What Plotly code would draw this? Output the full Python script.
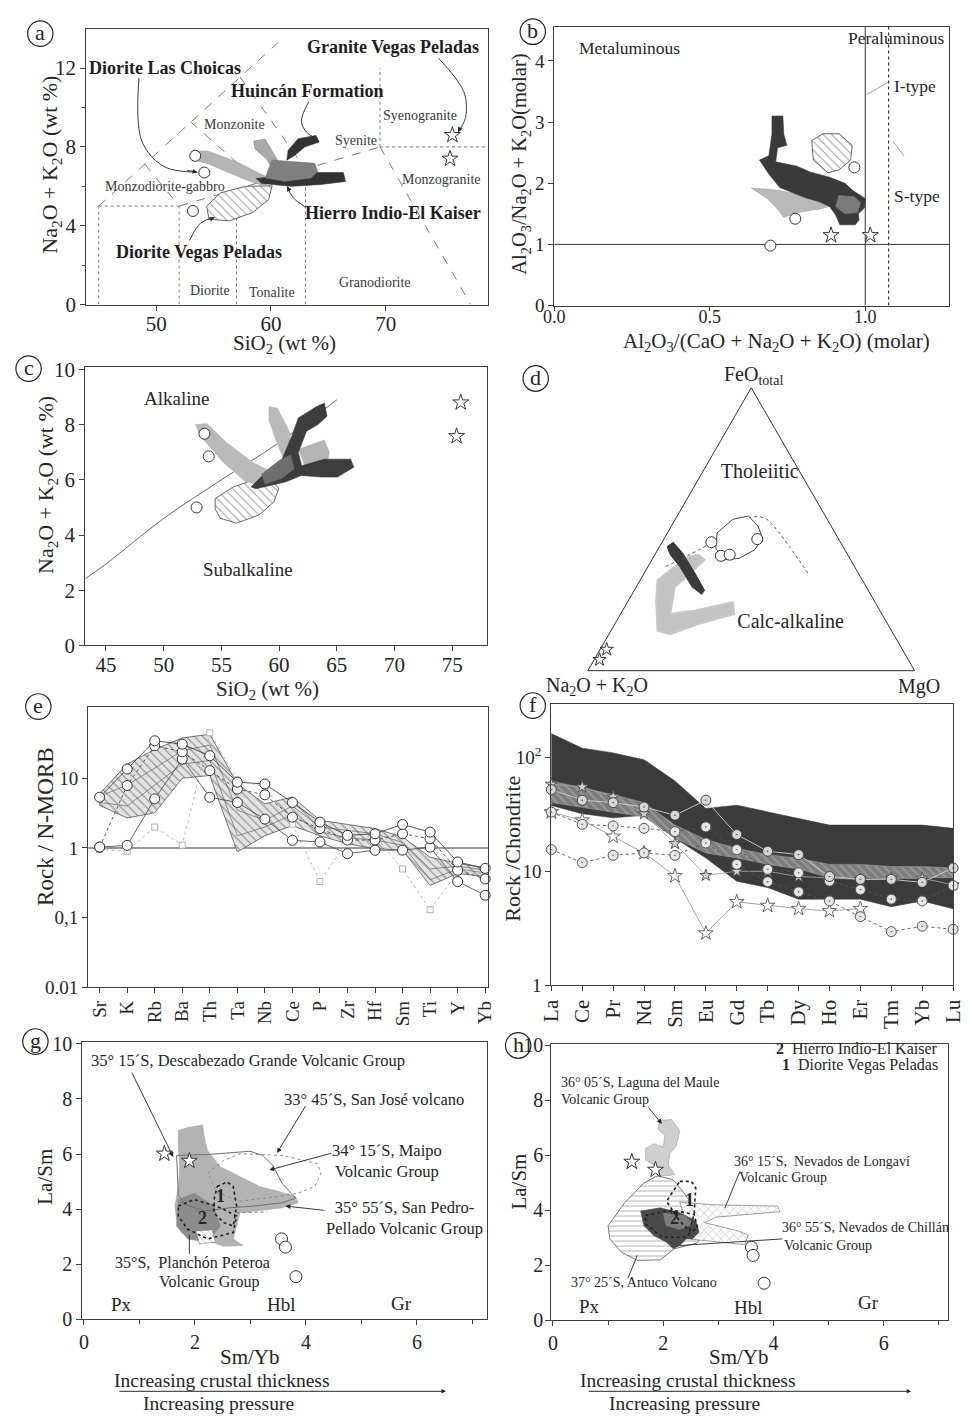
import plotly.graph_objects as go

FONT = "Liberation Serif"
INK = "#262626"
AXC = "#3f3f3f"
FIG_W, FIG_H = 970, 1424

# ---------------- (a) TAS diagram, plutonic nomenclature ----------------
A_CIRCLE_SIO2 = [53.4, 54.2, 53.2]
A_CIRCLE_ALK = [7.55, 6.7, 4.75]
A_STAR_SIO2 = [75.8, 75.6]
A_STAR_ALK = [8.6, 7.4]
A_VEGAS_SIO2 = [54.4, 55.6, 57.8, 60.1, 59.8, 58.4, 56.4, 54.6]
A_VEGAS_ALK = [5.0, 5.67, 6.0, 6.03, 5.33, 4.67, 4.25, 4.33]
A_ARM_SIO2 = [53.15, 54.43, 55.84, 57.26, 58.96, 59.81, 59.53, 57.83, 56.13, 54.43, 53.29]
A_ARM_ALK = [7.75, 7.8, 7.5, 7.17, 6.67, 6.42, 6.0, 6.33, 6.75, 7.17, 7.33]
A_BRANCH_SIO2 = [58.5, 59.5, 60.6, 61.2, 60.3, 59.6, 58.6]
A_BRANCH_ALK = [8.3, 8.4, 7.3, 6.9, 6.7, 7.4, 7.9]
A_BLOCK_SIO2 = [60.1, 63.8, 64.07, 63.5, 61.2, 59.5]
A_BLOCK_ALK = [7.33, 7.17, 6.75, 6.42, 6.25, 6.42]
A_UPPER_SIO2 = [61.5, 62.37, 63.93, 64.2, 62.94, 62.09, 61.38]
A_UPPER_ALK = [7.83, 8.42, 8.58, 8.25, 8.0, 7.58, 7.33]
A_LOWER_SIO2 = [58.7, 60.4, 63.8, 66.3, 66.5, 64.4, 61.8, 59.2]
A_LOWER_ALK = [6.4, 6.5, 6.7, 6.7, 6.25, 6.1, 6.0, 6.15]
A_DOTTED = [([45, 45], [0, 5]), ([45, 52], [5, 5]), ([52, 52], [0, 5]),
            ([57, 57], [0, 5.86]), ([63, 63], [0, 6.89]),
            ([69.5, 69.5], [8, 12]), ([69.5, 78.9], [8, 8])]
A_DASHED = [([45, 61], [5, 13.5]), ([49, 52], [7.13, 5]), ([53, 59], [9.27, 6.2]),
            ([57.3, 63], [11.56, 6.89]), ([52, 69.5], [5, 8]), ([69.5, 77.4], [8, 0])]
A_FIELDS = ["Monzonite", "Syenite", "Syenogranite", "Monzogranite",
            "Monzodiorite-gabbro", "Diorite", "Tonalite", "Granodiorite"]
A_UNITS = ["Granite Vegas Peladas", "Diorite Las Choicas", "Huincán Formation",
           "Hierro Indio-El Kaiser", "Diorite Vegas Peladas"]

# ---------------- (b) Shand index ----------------
B_DARK_X = [0.700, 0.735, 0.738, 0.748, 0.718, 0.712, 0.780, 0.825, 0.885, 0.935, 0.960, 1.000, 0.998,
            0.978, 0.980, 0.968, 0.918, 0.905, 0.885, 0.850, 0.810, 0.770, 0.725, 0.690, 0.660, 0.690, 0.700]
B_DARK_Y = [3.10, 3.10, 2.80, 2.62, 2.58, 2.35, 2.28, 2.18, 2.10, 2.00, 1.88, 1.75, 1.60,
            1.50, 1.40, 1.32, 1.32, 1.48, 1.62, 1.70, 1.76, 1.84, 1.93, 2.15, 2.38, 2.45, 2.80]
B_MED_X = [0.915, 0.965, 0.985, 0.975, 0.935, 0.905]
B_MED_Y = [1.80, 1.78, 1.68, 1.52, 1.50, 1.62]
B_LIGHT_X = [0.634, 0.697, 0.770, 0.875, 0.890, 0.854, 0.781, 0.738, 0.718, 0.687]
B_LIGHT_Y = [1.92, 1.90, 1.84, 1.68, 1.63, 1.58, 1.52, 1.44, 1.58, 1.74]
B_HATCH_X = [0.828, 0.864, 0.916, 0.958, 0.953, 0.916, 0.880, 0.833]
B_HATCH_Y = [2.70, 2.81, 2.81, 2.62, 2.38, 2.22, 2.17, 2.38]
B_CIRCLE_X = [0.965, 0.775, 0.695]
B_CIRCLE_Y = [2.26, 1.42, 0.98]
B_STAR_X = [0.89, 1.016]
B_STAR_Y = [1.15, 1.15]
B_ASI_LIMIT = 1.0
B_ANK_LIMIT = 1.0
B_IS_LIMIT = 1.075

# ---------------- (c) alkaline / subalkaline ----------------
C_BOUNDARY_SIO2 = [43.25, 45, 50, 55, 60, 65]
C_BOUNDARY_ALK = [2.43, 2.95, 4.6, 6.0, 7.35, 8.9]
C_ARM_X = [52.76, 53.75, 55.45, 57.71, 59.41, 59.12, 57.14, 55.17, 53.19]
C_ARM_Y = [8.0, 8.04, 7.35, 6.63, 6.28, 5.80, 5.92, 6.63, 7.58]
C_BRANCH_X = [59.12, 59.83, 60.82, 61.38, 60.53, 59.69, 59.12]
C_BRANCH_Y = [8.65, 8.6, 7.82, 6.99, 6.63, 7.46, 8.18]
C_RIGHT_X = [61.66, 63.92, 64.35, 64.07, 62.23]
C_RIGHT_Y = [7.11, 7.44, 6.99, 6.46, 6.51]
C_DARK_X = [57.57, 58.84, 60.25, 61.1, 61.66, 63.22, 63.92, 64.15, 63.36, 62.37, 61.66, 61.95,
            63.92, 66.19, 66.47, 65.05, 63.64, 61.95, 60.53, 59.12, 57.99]
C_DARK_Y = [5.74, 6.28, 6.75, 7.58, 8.24, 8.65, 8.78, 8.3, 8.0, 7.76, 6.99, 6.51,
            6.75, 6.75, 6.46, 6.1, 6.1, 6.16, 5.92, 5.8, 5.68]
C_MID_X = [58.5, 60.0, 61.0, 61.3, 60.2, 58.8]
C_MID_Y = [6.2, 6.7, 6.9, 6.4, 6.05, 5.85]
C_HATCH_X = [54.46, 56.02, 57.71, 59.41, 59.97, 59.54, 58.27, 56.3, 54.88, 54.46]
C_HATCH_Y = [5.32, 5.74, 5.98, 5.98, 5.68, 5.2, 4.73, 4.43, 4.61, 4.96]
C_CIRCLE_X = [53.53, 53.9, 52.85]
C_CIRCLE_Y = [7.67, 6.85, 5.0]
C_STAR_X = [75.73, 75.37]
C_STAR_Y = [8.8, 7.58]

# ---------------- (d) AFM ternary (FeOt, Na2O+K2O, MgO) ----------------
D_BOUND_FEO = [36.8, 45.1, 54.0, 54.0, 51.1, 43.9, 34.4]
D_BOUND_ALK = [57.8, 39.8, 23.8, 19.0, 17.6, 16.4, 15.4]
D_BOUND_MGO = [5.4, 15.1, 22.2, 27.0, 31.3, 39.7, 50.2]
D_CIRCLE_FEO = [45.4, 40.6, 41.0, 46.5]
D_CIRCLE_ALK = [39.5, 39.0, 36.1, 24.9]
D_CIRCLE_MGO = [15.1, 20.4, 22.9, 28.6]
D_HATCH_FEO = [48.7, 53.5, 54.65, 51.1, 46.9, 42.7, 39.7, 39.15, 43.3]
D_HATCH_ALK = [36.1, 28.9, 23.5, 22.4, 23.1, 27.6, 33.9, 39.0, 39.2]
D_HATCH_MGO = [15.2, 17.6, 21.85, 26.5, 30.0, 29.7, 26.4, 21.85, 17.5]
D_DARK_FEO = [43.9, 45.35, 41.5, 34.4, 28.4, 27.0, 29.6, 36.8, 40.95]
D_DARK_ALK = [53.8, 51.2, 50.2, 50.0, 50.1, 51.7, 53.3, 53.5, 54.3]
D_DARK_MGO = [2.3, 3.45, 8.3, 15.6, 21.5, 21.3, 17.1, 9.7, 4.75]
D_LIGHT_FEO = [40.95, 39.15, 32.0, 29.6, 20.0, 21.3, 24.2, 20.0, 16.5, 12.9, 14.1, 24.8, 32.0, 35.6, 40.3]
D_LIGHT_ALK = [45.7, 44.7, 55.0, 58.6, 64.8, 56.5, 43.5, 45.2, 57.9, 68.4, 71.65, 66.7, 62.7, 57.0, 48.9]
D_LIGHT_MGO = [13.35, 16.15, 13.0, 11.8, 15.2, 22.2, 32.3, 34.8, 25.6, 18.7, 14.25, 8.5, 5.3, 7.4, 10.8]
D_STAR_FEO = [3.9, 7.5]
D_STAR_ALK = [94.5, 90.5]
D_STAR_MGO = [1.6, 2.0]
D_FIELDS = ["Tholeiitic", "Calc-alkaline"]

# ---------------- (e) N-MORB normalised spider diagram ----------------
E_ELEMENTS = ["Sr", "K", "Rb", "Ba", "Th", "Ta", "Nb", "Ce", "P", "Zr", "Hf", "Sm", "Ti", "Y", "Yb"]
E_SAMPLE_1 = [5.35, 13.6, 34.6, 30.9, 21.1, 8.8, 8.3, 4.5, 2.35, 1.52, 1.6, 2.18, 1.69, 0.63, 0.51]
E_SAMPLE_2 = [1.03, 7.9, 29.3, 24.0, 12.9, 7.0, 5.8, 2.77, 1.9, 1.3, 1.3, 1.6, 1.36, 0.48, 0.36]
E_SAMPLE_3 = [1.03, 1.09, 5.07, 18.9, 5.35, 4.5, 2.6, 1.29, 1.22, 0.83, 0.93, 0.93, 1.03, 0.33, 0.21]
E_GRANITE = [0.95, 0.9, 2.0, 1.1, 45.0, 9.5, 7.5, 2.2, 0.33, 1.25, 1.5, 0.5, 0.13, 0.45, 0.42]
E_BAND_UPPER = [6.0, 16.0, 26.0, 38.0, 43.0, 8.3, 4.3, 5.4, 2.5, 2.2, 1.9, 1.44, 0.74, 0.6, 0.52]
E_BAND_LOWER = [4.1, 2.7, 3.2, 10.0, 11.0, 0.88, 1.5, 2.1, 1.5, 1.15, 0.98, 0.93, 0.29, 0.43, 0.39]
E_BAND_LINE_A = [5.5, 8.0, 14.0, 25.0, 30.0, 3.5, 2.5, 4.0, 2.0, 1.8, 1.6, 1.2, 0.5, 0.55, 0.48]
E_BAND_LINE_B = [4.5, 4.0, 8.0, 16.0, 18.0, 1.5, 2.0, 3.0, 1.7, 1.4, 1.3, 1.1, 0.35, 0.5, 0.44]

# ---------------- (f) chondrite normalised REE ----------------
F_ELEMENTS = ["La", "Ce", "Pr", "Nd", "Sm", "Eu", "Gd", "Tb", "Dy", "Ho", "Er", "Tm", "Yb", "Lu"]
F_ENV_UPPER = [161, 120, 109, 95, 62, 35.5, 38, 33, 29, 25.4, 25.4, 25.4, 25.4, 23.8]
F_ENV_LOWER = [37.8, 32, 29.4, 31, 19.5, 13.1, 8.2, 7.2, 5.7, 5.7, 5.7, 4.9, 5.5, 4.7]
F_BAND_UPPER = [62, 54, 47, 40, 25.4, 19, 15.9, 14, 13, 11.5, 11.5, 11, 11, 10.7]
F_BAND_LOWER = [40, 36.6, 33, 30, 19.5, 14.5, 13.1, 11.5, 10.5, 8.8, 8.8, 8.8, 8.8, 8.8]
F_SAMPLE_A = [52, 42, 40, 36.6, 31, 42, 21, 15, 14, 9, 8.5, 8.5, 8, 10.7]
F_SAMPLE_B = [33, 25.8, 25, 23.8, 22.3, 24.5, 15.5, 10.4, 9.7, 8.2, 6.9, 5.7, 5.5, 7.5]
F_SAMPLE_C = [15.5, 11.9, 13.8, 14.5, 13.8, 17.7, 11.5, 8.1, 6.6, 5.5, 4.0, 2.96, 3.3, 3.1]
F_STAR_1 = [33, 28, 20.2, 14.5, 9.1, 2.87, 5.4, 5.0, 4.7, 4.5, 4.7, None, None, None]
F_STAR_2 = [58, 55, 45, 32, 17.5, 9.2, 10, 10, 9, 8.7, 8.5, 8.7, 8.7, 7.6]

# ---------------- (g) La/Sm vs Sm/Yb, northern centres ----------------
G_GRAY_X = [1.70, 1.873, 2.137, 2.167, 2.225, 2.458, 2.81, 3.16, 3.51, 3.805, 3.863, 3.57, 3.10,
            2.81, 2.75, 2.69, 2.87, 2.52, 2.225, 1.99, 1.756, 1.668, 1.64, 1.70, 1.728, 1.70]
G_GRAY_Y = [6.85, 6.96, 7.05, 6.61, 6.13, 5.54, 5.18, 4.82, 4.64, 4.46, 4.23, 4.05, 3.93,
            3.87, 3.39, 2.92, 2.68, 2.65, 2.86, 3.04, 3.15, 3.63, 4.11, 4.82, 5.54, 6.25]
G_DARK_X = [1.70, 1.99, 2.342, 2.458, 2.225, 1.873, 1.668]
G_DARK_Y = [4.35, 4.58, 4.11, 3.39, 2.8, 2.92, 3.39]
G_HATCH_X = [2.02, 2.31, 2.37, 2.08]
G_HATCH_Y = [3.21, 3.25, 2.8, 2.74]
G_SANJOSE_X = [1.67, 2.23, 2.99, 3.22, 3.40, 3.57, 3.81, 3.57, 3.05, 2.63, 2.17, 1.82, 1.70]
G_SANJOSE_Y = [5.95, 5.98, 6.1, 5.95, 5.6, 4.94, 4.40, 4.23, 4.11, 4.05, 3.93, 4.17, 4.52]
G_MAIPO_X = [2.23, 2.52, 2.81, 3.57, 4.21, 4.27, 4.16, 3.86, 3.51, 2.81, 2.40]
G_MAIPO_Y = [5.30, 5.77, 6.01, 5.95, 5.65, 5.30, 4.82, 4.58, 4.46, 4.29, 4.6]
G_PELLADO_X = [2.75, 3.3]
G_PELLADO_Y = [3.87, 3.9]
G_REGION1_X = [2.40, 2.58, 2.69, 2.75, 2.69, 2.52, 2.34, 2.35]
G_REGION1_Y = [4.82, 4.99, 4.82, 4.11, 3.39, 3.51, 3.87, 4.4]
G_REGION2_X = [1.70, 1.99, 2.46, 2.75, 2.69, 2.23, 1.87, 1.70]
G_REGION2_Y = [4.11, 4.35, 4.05, 3.75, 3.15, 2.92, 3.27, 3.75]
G_STAR_X = [1.45, 1.9]
G_STAR_Y = [6.01, 5.75]
G_CIRCLE_X = [3.56, 3.63, 3.82]
G_CIRCLE_Y = [2.92, 2.62, 1.55]

# ---------------- (h) La/Sm vs Sm/Yb, southern centres ----------------
H_ANTUCO_X = [1.89, 2.18, 2.35, 2.6, 2.8, 2.6, 2.2, 1.95, 1.53, 1.24, 1.03, 1.0, 1.30, 1.65]
H_ANTUCO_Y = [5.25, 5.11, 4.7, 4.0, 3.2, 2.8, 2.6, 2.2, 2.18, 2.48, 2.96, 3.44, 4.27, 4.99]
H_MAULE_X = [1.945, 2.15, 2.30, 2.24, 2.12, 2.09, 2.21, 1.915, 1.83, 1.68, 1.68, 1.83, 2.0, 2.03, 1.90]
H_MAULE_Y = [7.26, 7.3, 6.9, 6.36, 6.06, 5.65, 5.29, 5.23, 5.65, 5.83, 6.24, 6.42, 6.30, 6.72, 6.96]
H_LONGAVI_X = [2.3, 2.89, 4.07, 4.12, 2.95, 2.75, 3.36, 3.54, 3.48, 3.0, 2.5]
H_LONGAVI_Y = [4.3, 4.2, 4.15, 3.95, 3.75, 3.55, 3.25, 3.1, 2.75, 2.84, 2.95]
H_CHILLAN_X = [1.59, 1.945, 2.30, 2.59, 2.65, 2.53, 2.42, 2.30, 2.18, 2.06, 1.83, 1.65]
H_CHILLAN_Y = [3.97, 4.09, 3.91, 3.62, 3.20, 2.96, 2.96, 2.72, 2.60, 2.84, 3.08, 3.44]
H_CORE_X = [2.0, 2.4, 2.55, 2.3, 2.05]
H_CORE_Y = [3.9, 3.8, 3.5, 3.3, 3.45]
H_REGION1_X = [2.30, 2.51, 2.59, 2.56, 2.48, 2.3, 2.06]
H_REGION1_Y = [5.05, 5.05, 4.81, 3.86, 3.26, 3.6, 4.33]
H_REGION2_X = [1.68, 2.15, 2.56, 2.62, 2.39, 1.98, 1.68]
H_REGION2_Y = [3.82, 4.0, 3.86, 3.38, 3.02, 3.02, 3.50]
H_STAR_X = [1.43, 1.86]
H_STAR_Y = [5.76, 5.47]
H_CIRCLE_X = [3.6, 3.63, 3.83]
H_CIRCLE_Y = [2.66, 2.36, 1.35]

# =====================================================================
fig = go.Figure()
ann = []
shp = []

try:
    go.layout.XAxis(ticklabelstandoff=-4)
    STANDOFF_OK = True
except Exception:
    STANDOFF_OK = False


def PX(v):
    return v / FIG_W


def PY(v):
    return 1 - v / FIG_H


def closed(v):
    v = list(v)
    return v + v[:1]


def hatch(shape="\\", fg="#333333", bg="white", size=6, solidity=0.16):
    return dict(shape=shape, fgcolor=fg, bgcolor=bg, size=size, solidity=solidity)


def add_poly(x, y, xa, ya, fill, edge=None, width=0.6, pattern=None, dash="solid"):
    kw = {"fillpattern": pattern} if pattern is not None else {}
    fig.add_trace(go.Scatter(x=closed(x), y=closed(y), xaxis=xa, yaxis=ya, mode="lines",
                             fill="toself", fillcolor=fill,
                             line=dict(color=edge or fill, width=width, dash=dash),
                             hoverinfo="skip", showlegend=False, **kw))


def add_outline(x, y, xa, ya, color, width=1.0, dash="solid", close=True):
    fig.add_trace(go.Scatter(x=closed(x) if close else x, y=closed(y) if close else y,
                             xaxis=xa, yaxis=ya, mode="lines",
                             line=dict(color=color, width=width, dash=dash),
                             hoverinfo="skip", showlegend=False))


def add_line(x, y, xa, ya, color=AXC, width=1.0, dash="solid", spline=False):
    fig.add_trace(go.Scatter(x=x, y=y, xaxis=xa, yaxis=ya, mode="lines",
                             line=dict(color=color, width=width, dash=dash,
                                       shape="spline" if spline else "linear"),
                             hoverinfo="skip", showlegend=False))


def add_marks(x, y, xa, ya, symbol="circle", size=10, fill="white", edge="#333333",
              mode="markers", lcolor=None, dash="solid", lwidth=0.9):
    fig.add_trace(go.Scatter(x=x, y=y, xaxis=xa, yaxis=ya, mode=mode, cliponaxis=False,
                             marker=dict(symbol=symbol, size=size, color=fill,
                                         line=dict(color=edge, width=1)),
                             line=dict(color=lcolor or edge, width=lwidth, dash=dash),
                             hoverinfo="skip", showlegend=False))


def text(t, x, y, xref="paper", yref="paper", size=13, color=INK, xanchor="center",
         yanchor="middle", angle=0, bold=False):
    if xref == "paper":
        x = PX(x)
    if yref == "paper":
        y = PY(y)
    ann.append(dict(text=f"<b>{t}</b>" if bold else t, x=x, y=y, xref=xref, yref=yref,
                    showarrow=False, textangle=angle, xanchor=xanchor, yanchor=yanchor,
                    font=dict(family=FONT, size=size, color=color)))


def arrow(x, y, ax, ay, ref_x, ref_y, width=0.9):
    ann.append(dict(x=x, y=y, ax=ax, ay=ay, xref=ref_x, yref=ref_y, axref=ref_x, ayref=ref_y,
                    text="", showarrow=True, arrowhead=2, arrowsize=1.1, arrowwidth=width,
                    arrowcolor=INK, standoff=0, font=dict(family=FONT, size=10)))


# ---------------- panel (a) ----------------
for xs, ys in A_DOTTED:
    add_line(xs, ys, "x", "y", color="#6a6a6a", width=0.9, dash="dot")
for xs, ys in A_DASHED:
    add_line(xs, ys, "x", "y", color="#6a6a6a", width=0.9, dash="dash")
add_poly(A_VEGAS_SIO2, A_VEGAS_ALK, "x", "y", "white", edge="#444", width=0.8, pattern=hatch())
add_poly(A_ARM_SIO2, A_ARM_ALK, "x", "y", "#b4b4b4", edge="#9a9a9a")
add_poly(A_BRANCH_SIO2, A_BRANCH_ALK, "x", "y", "#a9a9a9", edge="#909090")
add_poly(A_LOWER_SIO2, A_LOWER_ALK, "x", "y", "#333333")
add_poly(A_BLOCK_SIO2, A_BLOCK_ALK, "x", "y", "#808080", edge="#6a6a6a")
add_poly(A_UPPER_SIO2, A_UPPER_ALK, "x", "y", "#333333")
add_marks(A_CIRCLE_SIO2, A_CIRCLE_ALK, "x", "y", size=11)
add_marks(A_STAR_SIO2, A_STAR_ALK, "x", "y", symbol="star", size=12)

A_FIELD_POS = [(56.8, 9.15), (67.45, 8.35), (73.0, 9.6), (74.85, 6.35),
               (50.77, 6.0), (54.68, 0.7), (60.13, 0.6), (69.06, 1.1)]
for name, (fx, fy) in zip(A_FIELDS, A_FIELD_POS):
    text(name, fx, fy, "x", "y", size=14, color="#3a3a3a")
A_UNIT_POS = [(70.6, 13.05), (50.8, 12.0), (63.2, 10.85), (70.6, 4.65), (53.74, 2.65)]
for name, (ux, uy) in zip(A_UNITS, A_UNIT_POS):
    text(name, ux, uy, "x", "y", size=18, bold=True, color="#1e1e1e")
A_LEADERS = [([48.5, 48.75, 50.7, 53.6], [11.5, 8.3, 7.0, 6.72]),
             ([74.6, 76.8, 76.95, 76.3], [12.5, 10.8, 9.5, 8.75]),
             ([63.3, 62.65, 63.1, 63.7], [10.3, 9.3, 8.75, 8.5]),
             ([63.0, 61.9, 61.4], [4.95, 5.45, 6.0]),
             ([52.9, 53.9, 55.1], [3.25, 4.15, 4.42])]
for xs, ys in A_LEADERS:
    add_line(xs, ys, "x", "y", color=INK, width=0.9, spline=True)
    arrow(xs[-1], ys[-1], xs[-1] - 0.35 * (xs[-1] - xs[-2]), ys[-1] - 0.35 * (ys[-1] - ys[-2]), "x", "y")

# ---------------- panel (b) ----------------
add_line([B_ASI_LIMIT, B_ASI_LIMIT], [0, 4.56], "x2", "y2", color="#333", width=1)
add_line([0, 1.27], [B_ANK_LIMIT, B_ANK_LIMIT], "x2", "y2", color="#333", width=1)
add_line([B_IS_LIMIT, B_IS_LIMIT], [0, 4.56], "x2", "y2", color="#333", width=1.2, dash="dot")
add_line([1.005, 1.073], [3.45, 3.65], "x2", "y2", color="#777", width=0.7)
add_line([1.09, 1.125], [2.68, 2.44], "x2", "y2", color="#777", width=0.7)
add_poly(B_LIGHT_X, B_LIGHT_Y, "x2", "y2", "#b9b9b9", edge="#a0a0a0")
add_poly(B_DARK_X, B_DARK_Y, "x2", "y2", "#3a3a3a")
add_poly(B_MED_X, B_MED_Y, "x2", "y2", "#7a7a7a")
add_poly(B_HATCH_X, B_HATCH_Y, "x2", "y2", "white", edge="#444", width=0.8, pattern=hatch())
add_marks(B_CIRCLE_X, B_CIRCLE_Y, "x2", "y2", size=11)
add_marks(B_STAR_X, B_STAR_Y, "x2", "y2", symbol="star", size=12)
text("Metaluminous", 0.242, 4.21, "x2", "y2", size=17.5)
text("Peraluminous", 1.10, 4.37, "x2", "y2", size=17.5)
text("I-type", 1.16, 3.59, "x2", "y2", size=17.5)
text("S-type", 1.165, 1.79, "x2", "y2", size=17.5)

# ---------------- panel (c) ----------------
add_line(C_BOUNDARY_SIO2, C_BOUNDARY_ALK, "x3", "y3", color="#555", width=0.9, spline=True)
add_poly(C_HATCH_X, C_HATCH_Y, "x3", "y3", "white", edge="#444", width=0.8, pattern=hatch())
add_poly(C_ARM_X, C_ARM_Y, "x3", "y3", "#b9b9b9")
add_poly(C_BRANCH_X, C_BRANCH_Y, "x3", "y3", "#b9b9b9")
add_poly(C_RIGHT_X, C_RIGHT_Y, "x3", "y3", "#b4b4b4")
add_poly(C_DARK_X, C_DARK_Y, "x3", "y3", "#3d3d3d")
add_poly(C_MID_X, C_MID_Y, "x3", "y3", "#6e6e6e")
add_marks(C_CIRCLE_X, C_CIRCLE_Y, "x3", "y3", size=11)
add_marks(C_STAR_X, C_STAR_Y, "x3", "y3", symbol="star", size=12)
text("Alkaline", 51.07, 8.95, "x3", "y3", size=19)
text("Subalkaline", 57.3, 2.76, "x3", "y3", size=19)


# ---------------- panel (d) ----------------
def tern(a, b, c, **kw):
    base = dict(a=a, b=b, c=c, subplot="ternary", hoverinfo="skip", showlegend=False)
    base.update(kw)
    pattern = base.pop("fillpattern", None)
    if pattern is not None:
        try:
            fig.add_trace(go.Scatterternary(fillpattern=pattern, **base))
            return
        except (ValueError, TypeError):
            pass
    fig.add_trace(go.Scatterternary(**base))


tern(closed(D_LIGHT_FEO), closed(D_LIGHT_ALK), closed(D_LIGHT_MGO), mode="lines", fill="toself",
     fillcolor="#c2c2c2", line=dict(color="#c8c8c8", width=2))
tern(closed(D_DARK_FEO), closed(D_DARK_ALK), closed(D_DARK_MGO), mode="lines", fill="toself",
     fillcolor="#3a3a3a", line=dict(color="#3a3a3a", width=1))
tern(D_BOUND_FEO, D_BOUND_ALK, D_BOUND_MGO, mode="lines",
     line=dict(color="#555", width=1, dash="dot", shape="spline"))
tern(closed(D_HATCH_FEO), closed(D_HATCH_ALK), closed(D_HATCH_MGO), mode="lines", fill="toself",
     fillcolor="white", line=dict(color="#333", width=0.9), fillpattern=hatch())
tern(D_CIRCLE_FEO, D_CIRCLE_ALK, D_CIRCLE_MGO, mode="markers", cliponaxis=False,
     marker=dict(symbol="circle", size=11, color="white", line=dict(color="#333", width=1)))
tern(D_STAR_FEO, D_STAR_ALK, D_STAR_MGO, mode="markers", cliponaxis=False,
     marker=dict(symbol="star", size=10, color="white", line=dict(color="#333", width=1)))
tern([70.0, 16.7], [12.4, 29.6], [17.6, 53.7], mode="text", text=D_FIELDS,
     textfont=dict(family=FONT, size=20, color=INK), cliponaxis=False)
text("FeO<sub>total</sub>", 760, 372, size=20)
text("Na<sub>2</sub>O + K<sub>2</sub>O", 600, 688, size=20)
text("MgO", 930, 688, size=20)

# ---------------- panel (e) ----------------
E_POS = list(range(len(E_ELEMENTS)))
add_line([-0.42, 14.1], [1, 1], "x4", "y4", color="#333", width=1.2)
add_poly(E_POS + E_POS[::-1], E_BAND_UPPER + E_BAND_LOWER[::-1], "x4", "y4", "#d9d9d9",
         edge="#555", width=0.8, pattern=hatch(fg="#4a4a4a", bg="#e3e3e3", size=6, solidity=0.2))
add_line(E_POS, E_BAND_LINE_A, "x4", "y4", color="#666", width=0.7)
add_line(E_POS, E_BAND_LINE_B, "x4", "y4", color="#666", width=0.7)
add_marks(E_POS, E_GRANITE, "x4", "y4", symbol="square", size=6, fill="white", edge="#b0b0b0",
          mode="lines+markers", dash="dot")
add_marks(E_POS, E_SAMPLE_3, "x4", "y4", size=10, mode="lines+markers", lcolor="#555")
add_marks(E_POS, E_SAMPLE_2, "x4", "y4", size=10, mode="lines+markers", lcolor="#444", dash="dot")
add_marks(E_POS, E_SAMPLE_1, "x4", "y4", size=10, mode="lines+markers", lcolor="#444")

# ---------------- panel (f) ----------------
F_POS = list(range(len(F_ELEMENTS)))
add_poly(F_POS + F_POS[::-1], F_ENV_UPPER + F_ENV_LOWER[::-1], "x5", "y5", "#3b3b3b")
add_poly(F_POS + F_POS[::-1], F_BAND_UPPER + F_BAND_LOWER[::-1], "x5", "y5", "#8a8a8a",
         edge="#9a9a9a", pattern=hatch(shape="\\", fg="#b8b8b8", bg="#7d7d7d", size=6, solidity=0.3))
add_marks(F_POS, F_STAR_2, "x5", "y5", symbol="star", size=9, fill="#d0d0d0", edge="#555",
          mode="lines+markers", lcolor="#a0a0a0")
add_marks(F_POS, F_STAR_1, "x5", "y5", symbol="star", size=11, fill="white", edge="#666",
          mode="lines+markers", lcolor="#9a9a9a")
add_marks(F_POS, F_SAMPLE_C, "x5", "y5", symbol="circle-dot", size=10, fill="#e6e6e6",
          edge="#555", mode="lines+markers", dash="dot")
add_marks(F_POS, F_SAMPLE_B, "x5", "y5", symbol="circle-dot", size=10, fill="#e6e6e6",
          edge="#555", mode="lines+markers", dash="dot")
add_marks(F_POS, F_SAMPLE_A, "x5", "y5", symbol="circle-dot", size=10, fill="#d6d6d6",
          edge="#444", mode="lines+markers", lcolor="#cfcfcf")

# ---------------- panel (g) ----------------
add_poly(G_GRAY_X, G_GRAY_Y, "x6", "y6", "#b3b3b3", edge="#a5a5a5")
add_poly(G_DARK_X, G_DARK_Y, "x6", "y6", "#8c8c8c")
add_poly(G_HATCH_X, G_HATCH_Y, "x6", "y6", "white", edge="#777", pattern=hatch(fg="#555", size=5))
add_outline(G_SANJOSE_X, G_SANJOSE_Y, "x6", "y6", "#6f6f6f", width=1.0)
add_outline(G_MAIPO_X, G_MAIPO_Y, "x6", "y6", "#8a8a8a", width=1.0, dash="dot")
add_line(G_PELLADO_X, G_PELLADO_Y, "x6", "y6", color="#8a8a8a", width=1.2, dash="dot")
add_outline(G_REGION1_X, G_REGION1_Y, "x6", "y6", "#222", width=1.6, dash="dot")
add_outline(G_REGION2_X, G_REGION2_Y, "x6", "y6", "#222", width=1.6, dash="dot")
add_marks(G_STAR_X, G_STAR_Y, "x6", "y6", symbol="star", size=12)
add_marks(G_CIRCLE_X, G_CIRCLE_Y, "x6", "y6", size=12)
text("1", 2.46, 4.46, "x6", "y6", size=18, bold=True)
text("2", 2.14, 3.69, "x6", "y6", size=18, bold=True)
G_ARROWS = [((1.61, 5.89), (0.85, 9.01)), ((3.48, 6.04), (4.01, 7.8)),
            ((3.34, 5.42), (4.48, 6.04)), ((3.63, 4.11), (4.36, 3.95))]
for (hx, hy), (tx, ty) in G_ARROWS:
    arrow(hx, hy, tx, ty, "x6", "y6")
add_line([1.90, 1.90], [2.38, 3.06], "x6", "y6", color=INK, width=0.9)
text("35° 15´S, Descabezado Grande Volcanic Group", 242, 1067, size=16.5)
text("33° 45´S, San José volcano", 371, 1107, size=16.5)
text("34° 15´S, Maipo<br>Volcanic Group", 385, 1169, size=16.5)
text("35° 55´S, San Pedro-<br>Pellado Volcanic Group", 402, 1227, size=16.5)
text("35°S,  Planchón Peteroa", 185, 1272, size=16)
text("Volcanic Group", 202, 1292, size=16)
text("Px", 112, 1315, size=19)
text("Hbl", 276, 1315, size=19)
text("Gr", 399, 1314, size=19)

# ---------------- panel (h) ----------------
add_poly(H_ANTUCO_X, H_ANTUCO_Y, "x7", "y7", "white", edge="#555", width=0.8,
         pattern=hatch(shape="-", fg="#555", size=5, solidity=0.18))
add_poly(H_MAULE_X, H_MAULE_Y, "x7", "y7", "#cfcfcf", edge="#9a9a9a")
add_poly(H_LONGAVI_X, H_LONGAVI_Y, "x7", "y7", "white", edge="#888", width=0.8,
         pattern=hatch(shape="x", fg="#7a7a7a", size=6, solidity=0.2))
add_poly(H_CHILLAN_X, H_CHILLAN_Y, "x7", "y7", "#4a4a4a")
add_poly(H_CORE_X, H_CORE_Y, "x7", "y7", "#7c7c7c")
add_outline(H_REGION1_X, H_REGION1_Y, "x7", "y7", "#222", width=1.6, dash="dot")
add_outline(H_REGION2_X, H_REGION2_Y, "x7", "y7", "#222", width=1.6, dash="dot")
add_marks(H_STAR_X, H_STAR_Y, "x7", "y7", symbol="star", size=12)
add_marks(H_CIRCLE_X, H_CIRCLE_Y, "x7", "y7", size=12)
text("1", 2.48, 4.39, "x7", "y7", size=18, bold=True)
text("2", 2.21, 3.73, "x7", "y7", size=18, bold=True)
arrow(1.975, 7.14, 1.71, 7.79, "x7", "y7")
add_line([3.39, 3.12], [5.41, 4.09], "x7", "y7", color=INK, width=0.9)
add_line([4.16, 2.30], [2.96, 2.72], "x7", "y7", color=INK, width=0.9)
add_line([1.36, 1.53], [1.53, 2.36], "x7", "y7", color=INK, width=0.9)
text("<b>2</b>  Hierro Indio-El Kaiser", 952, 1055, size=16, xanchor="right")
text("<b>1</b>  Diorite Vegas Peladas", 952, 1072, size=16, xanchor="right")
text("36° 05´S, Laguna del Maule", 561, 1090, size=14, xanchor="left")
text("Volcanic Group", 561, 1107, size=14, xanchor="left")
text("36° 15´S,  Nevados de Longaví", 738, 1170, size=14, xanchor="left")
text("Volcanic Group", 743, 1186, size=14, xanchor="left")
text("36° 55´S, Nevados de Chillán", 787, 1237, size=14, xanchor="left")
text("Volcanic Group", 790, 1255, size=14, xanchor="left")
text("37° 25´S, Antuco Volcano", 648, 1293, size=14)
text("Px", 592, 1317, size=19)
text("Hbl", 755, 1318, size=19)
text("Gr", 878, 1313, size=19)

# ---------------- axis titles and captions ----------------
text("Na<sub>2</sub>O + K<sub>2</sub>O (wt %)", 40, 158, size=22, angle=-90)
text("SiO<sub>2</sub> (wt %)", 279, 340, size=21)
text("Al<sub>2</sub>O<sub>3</sub>/Na<sub>2</sub>O + K<sub>2</sub>O(molar)", 522, 158, size=20.5, angle=-90)
text("Al<sub>2</sub>O<sub>3</sub>/(CaO + Na<sub>2</sub>O + K<sub>2</sub>O) (molar)", 784, 338, size=21)
text("Na<sub>2</sub>O + K<sub>2</sub>O (wt %)", 36, 483, size=22, angle=-90)
text("SiO<sub>2</sub> (wt %)", 262, 691, size=21)
text("Rock / N-MORB", 35, 830, size=23, angle=-90)
text("Rock /Chondrite", 513, 852, size=22, angle=-90)
text("La/Sm", 33, 1185, size=21, angle=-90)
text("La/Sm", 520, 1190, size=21, angle=-90)
for cx in (244, 745):
    text("Sm/Yb", cx, 1368, size=21)
for cx, x0, x1 in ((215, 117, 445), (693, 598, 922)):
    text("Increasing crustal thickness", cx, 1392, size=19.5)
    text("Increasing pressure", cx - 3, 1415, size=19.5)
    ann.append(dict(x=PX(x1), y=PY(1403), xref="paper", yref="paper", ax=-(x1 - x0), ay=0,
                    axref="pixel", ayref="pixel", text="", showarrow=True, arrowhead=2,
                    arrowsize=0.9, arrowwidth=1, arrowcolor=INK, font=dict(family=FONT, size=10)))

PANEL_TAGS = [("a", 29, 25), ("b", 534, 23), ("c", 17, 365), ("d", 537, 375),
              ("e", 27, 708), ("f", 534, 707), ("g", 24, 1048), ("h", 519, 1052)]
for letter, cx, cy in PANEL_TAGS:
    shp.append(dict(type="circle", xref="paper", yref="paper", x0=PX(cx - 13), x1=PX(cx + 13),
                    y0=PY(cy + 13), y1=PY(cy - 13), line=dict(color=INK, width=1.2)))
    text(letter, cx, cy - 1, size=22)


# ---------------- axes ----------------
def axis(px0, px1, rng, anchor, font_size=19, **kw):
    d = dict(domain=[PX(px0), PX(px1)], range=rng, anchor=anchor, showline=True, linecolor=AXC,
             linewidth=1, mirror=True, ticks="outside", ticklen=5, tickcolor=AXC, showgrid=False,
             zeroline=False, tickfont=dict(family=FONT, size=font_size, color=INK))
    standoff = kw.pop("standoff", None)
    if standoff is not None and STANDOFF_OK:
        d["ticklabelstandoff"] = standoff
    d.update(kw)
    return d


def yaxis(top, bottom, rng, anchor, **kw):
    d = axis(0, 0, rng, anchor, **kw)
    d["domain"] = [PY(bottom), PY(top)]
    return d


minor_y = dict(ticks="outside", ticklen=3, tickcolor=AXC)

layout_axes = dict(
    xaxis=axis(76, 488, [43.9, 78.9], "y", font_size=21, tickvals=[50, 60, 70], standoff=-5),
    yaxis=yaxis(20, 300, [0, 14], "x", font_size=21, tickvals=[0, 4, 8, 12],
                minor=dict(tickvals=[2, 6, 10], **minor_y)),
    xaxis2=axis(556, 961, [0, 1.27], "y2", font_size=18, tickvals=[0, 0.5, 1.0],
                ticktext=["0.0", "0.5", "1.0"], standoff=-9, ticklen=4),
    yaxis2=yaxis(18, 301, [0, 4.56], "x2", font_size=19, tickvals=[0, 1, 2, 3, 4]),
    xaxis3=axis(75, 487, [43.2, 78], "y3", font_size=21, tickvals=[45, 50, 55, 60, 65, 70, 75],
                standoff=-5),
    yaxis3=yaxis(363, 646, [0, 10.1], "x3", font_size=21, tickvals=[0, 2, 4, 6, 8, 10]),
    xaxis4=axis(78, 488, [-0.42, 14.1], "y4", font_size=19, tickvals=E_POS, ticktext=E_ELEMENTS,
                tickangle=-90),
    yaxis4=yaxis(708, 993, [-2, 2.03], "x4", font_size=19, type="log", tickvals=[0.01, 0.1, 1, 10],
                 ticktext=["0.01", "0,1", "1", "10"]),
    xaxis5=axis(553, 965, [0, 13], "y5", font_size=21, tickvals=F_POS, ticktext=F_ELEMENTS,
                tickangle=-90),
    yaxis5=yaxis(705, 991, [0, 2.47], "x5", font_size=19, type="log", tickvals=[1, 10, 100],
                 ticktext=["1", "10", "10<sup>2</sup>"]),
    xaxis6=axis(72, 487, [-0.03, 7.26], "y6", font_size=20, tickvals=[0, 2, 4, 6],
                minor=dict(tickvals=[1, 3, 5, 7], ticks="outside", ticklen=4, tickcolor=AXC)),
    yaxis6=yaxis(1048, 1330, [0, 10.08], "x6", font_size=20, tickvals=[0, 2, 4, 6, 8, 10]),
    xaxis7=axis(553, 960, [-0.03, 7.17], "y7", font_size=20, tickvals=[0, 2, 4, 6],
                minor=dict(tickvals=[1, 3, 5, 7], ticks="outside", ticklen=4, tickcolor=AXC)),
    yaxis7=yaxis(1050, 1331, [0, 10.06], "x7", font_size=20, tickvals=[0, 2, 4, 6, 8, 10],
                 standoff=-2),
)

tern_axis = dict(showticklabels=False, ticks="", showgrid=False, showline=True,
                 linecolor="#333", linewidth=1, title=dict(text=""))

fig.update_layout(
    width=FIG_W, height=FIG_H, margin=dict(l=0, r=0, t=0, b=0),
    paper_bgcolor="white", plot_bgcolor="white", showlegend=False,
    font=dict(family=FONT, color=INK),
    ternary=dict(domain=dict(x=[PX(590.5), PX(925.5)], y=[PY(673), PY(383)]), sum=100,
                 bgcolor="white", aaxis=tern_axis, baxis=tern_axis, caxis=tern_axis),
    annotations=ann, shapes=shp,
    **layout_axes,
)

fig.write_html("out.html")
